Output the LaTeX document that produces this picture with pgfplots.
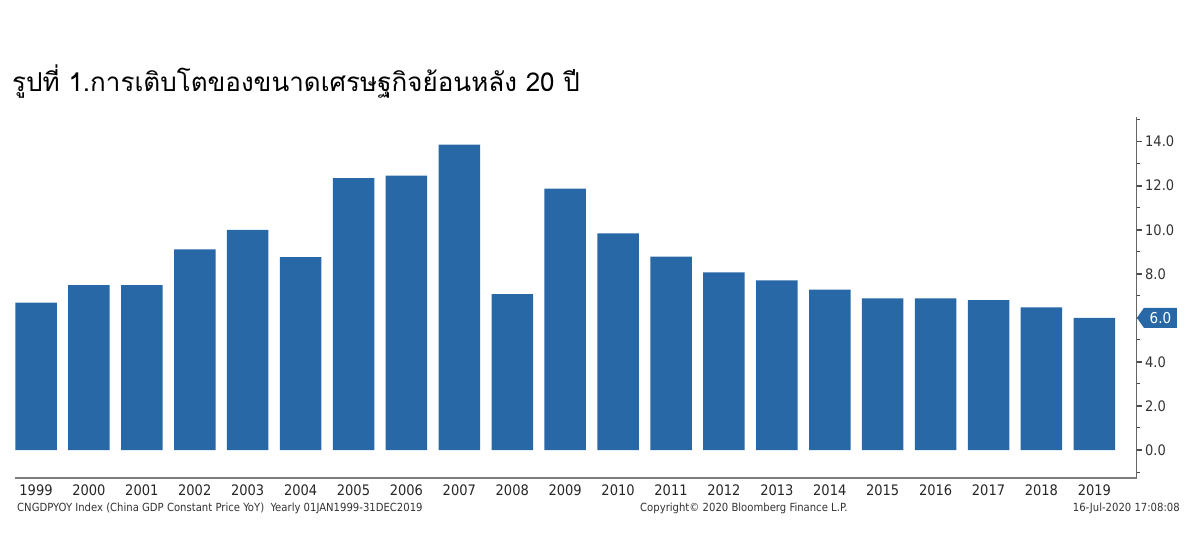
\documentclass[border=0pt]{standalone}
\usepackage{fontspec}
\setmainfont{DejaVu Sans Condensed}
\newfontfamily\thaifont[Script=Thai]{Loma}
\usepackage{pgfplots}
\pgfplotsset{compat=1.18}
\usetikzlibrary{shapes.symbols}
\definecolor{bbblue}{RGB}{40,104,166}
\definecolor{axisgray}{RGB}{125,125,125}

\begin{document}
\begin{tikzpicture}[x=1pt,y=1pt]
\path[use as bounding box] (0,0) rectangle (1200,554);
\begin{axis}[
    at={(15pt,76pt)}, anchor=south west,
    scale only axis, width=1121.7pt, height=361pt,
    xmin=1998.603, xmax=2019.80,
    ymin=-1.27, ymax=15.12,
    ybar, bar width=0.784,
    axis x line*=bottom, axis y line*=right,
    x axis line style={draw=axisgray, line width=2.5pt, -},
    y axis line style={draw=black!60, line width=1pt, -},
    xtick={1999,2000,...,2019},
    ytick={0,2,...,14},
    yticklabels={0.0,2.0,4.0,,8.0,10.0,12.0,14.0},
    minor ytick={-1,1,...,15},
    tick align=outside,
    major tick length=5pt, minor tick length=3.5pt,
    x tick style={draw=none},
    y tick style={draw=black!70, line width=1pt},
    major y tick style={line width=1.6pt},
    /pgf/number format/assume math mode=true,
    xticklabel style={font=\fontsize{14.5}{16}\selectfont, text=black!85,
        /pgf/number format/1000 sep={}, yshift=2pt},
    yticklabel style={font=\fontsize{14.5}{16}\selectfont, text=black!80},
    clip=false,
]
\addplot[fill=bbblue, draw=none] coordinates {
    (1999,6.69) (2000,7.49) (2001,7.49) (2002,9.11) (2003,9.99)
    (2004,8.76) (2005,12.34) (2006,12.46) (2007,13.87) (2008,7.08)
    (2009,11.87) (2010,9.84) (2011,8.78) (2012,8.07) (2013,7.70)
    (2014,7.28) (2015,6.89) (2016,6.89) (2017,6.80) (2018,6.48)
    (2019,6.0)
};
\node[signal, signal to=west, signal pointer angle=110, fill=bbblue,
      text=white, anchor=west, minimum height=20pt, minimum width=40pt,
      inner sep=1pt, font=\fontsize{15}{16}\selectfont]
    at (axis cs:2019.80,6.0) {6.0};
\end{axis}
\node[anchor=base west, inner sep=0pt, font=\thaifont\fontsize{26}{28}\selectfont]
    at (12,462) {รูปที่ 1.การเติบโตของขนาดเศรษฐกิจย้อนหลัง 20 ปี};
\node[anchor=base west, inner sep=0pt, font=\fontsize{11.2}{13}\selectfont, text=black!80]
    at (17,42) {CNGDPYOY Index (China GDP Constant Price YoY)\ \ Yearly 01JAN1999-31DEC2019};
\node[anchor=base west, inner sep=0pt, font=\fontsize{11.2}{13}\selectfont, text=black!80]
    at (640,42) {Copyright© 2020 Bloomberg Finance L.P.};
\node[anchor=base east, inner sep=0pt, font=\fontsize{11.2}{13}\selectfont, text=black!80]
    at (1180,42) {16-Jul-2020 17:08:08};
\end{tikzpicture}
\end{document}
